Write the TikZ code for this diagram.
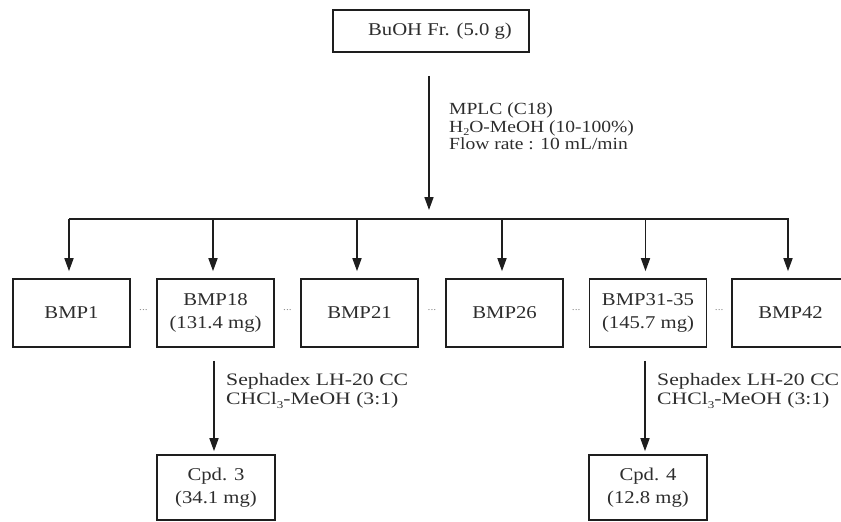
\documentclass[tikz,border=0pt]{standalone}
\usepackage{fontspec}
\setmainfont{Liberation Serif}[FakeStretch=1.15]
\newfontfamily\widefont{Liberation Serif}[FakeStretch=1.24]
\usetikzlibrary{arrows.meta,calc}
\definecolor{linec}{RGB}{30,30,30}
\definecolor{textc}{RGB}{45,45,45}
\newcommand\mysub[1]{\raisebox{-0.2em}{\fontsize{10.5}{10.5}\selectfont #1}}
\begin{document}
\begin{tikzpicture}[x=1pt,y=-1pt,
  box/.style={draw=linec, line width=1.6pt, minimum width=117pt, minimum height=68pt,
    inner sep=0pt, align=center, text=textc, font=\fontsize{18}{23}\selectfont},
  arr/.style={draw=linec, line width=1.6pt, -{Triangle[length=13pt,width=9pt]}},
  busline/.style={draw=linec, line width=1.6pt},
  lbl/.style={anchor=north west, inner sep=0pt, align=left, text=textc},
  dotsnode/.style={text=black!45, font=\fontsize{10}{10}\selectfont, inner sep=0pt}]
\useasboundingbox (0,0) rectangle (841,522);
\clip (0,0) rectangle (841,522);

% top box
\node[box, minimum width=196pt, minimum height=42pt] (top) at (431,31) {\hspace*{18pt}BuOH Fr. (5.0 g)};

% main arrow and bus
\coordinate (mend) at (429,210);
\draw[arr] ([xshift=-2pt,yshift=-23pt]top.south) -- (mend);
\coordinate (busL) at (69,219);
\coordinate (busR) at (789,219);
\draw[busline] (busL) -- (busR);

\node[lbl, font=\fontsize{17}{17.5}\selectfont] (l1) at (449,103)
  {MPLC (C18)\\H\mysub{2}O-MeOH (10-100\%)\\Flow rate : 10 mL/min};

% fraction boxes
\node[box] (b1) at (71.5,313) {BMP1};
\node[box] (b2) at (215.5,313) {BMP18\\(131.4 mg)};
\node[box] (b3) at (359.5,313) {BMP21};
\node[box] (b4) at (504.5,313) {BMP26};
\node[box] (b5) at (648,313) {BMP31-35\\(145.7 mg)};
\node[box] (b6) at (790.5,313) {BMP42};

\foreach \b in {b1,b2,b3,b4,b5,b6}{
  \draw[arr] ([xshift=-2.5pt]\b.north |- busL) -- ([xshift=-2.5pt,yshift=7pt]\b.north);
}

% dots
\node[dotsnode] (d1) at ($(b1.east)!0.5!(b2.west)+(0,-3)$) {...};
\node[dotsnode] (d2) at ($(b2.east)!0.5!(b3.west)+(0,-3)$) {...};
\node[dotsnode] (d3) at ($(b3.east)!0.5!(b4.west)+(0,-3)$) {...};
\node[dotsnode] (d4) at ($(b4.east)!0.5!(b5.west)+(0,-3)$) {...};
\node[dotsnode] (d5) at ($(b5.east)!0.5!(b6.west)+(0,-3)$) {...};

% compound boxes
\node[box, minimum width=118pt, minimum height=65pt] (c3) at (216,487.5) {Cpd. 3\\(34.1 mg)};
\node[box, minimum width=118pt, minimum height=65pt] (c4) at (648,487.5) {Cpd. 4\\(12.8 mg)};

\draw[arr] ([xshift=-1.5pt,yshift=-13pt]b2.south) -- ([xshift=-2pt,yshift=3pt]c3.north);
\draw[arr] ([xshift=-3pt,yshift=-13pt]b5.south) -- ([xshift=-3pt,yshift=3pt]c4.north);

\node[lbl, font=\widefont\fontsize{17.5}{19.5}\selectfont] (l2) at (226,373)
  {Sephadex LH-20 CC\\CHCl\mysub{3}-MeOH (3:1)};
\node[lbl, font=\widefont\fontsize{17.5}{19.5}\selectfont] (l3) at (657,373)
  {Sephadex LH-20 CC\\CHCl\mysub{3}-MeOH (3:1)};
\end{tikzpicture}
\end{document}
